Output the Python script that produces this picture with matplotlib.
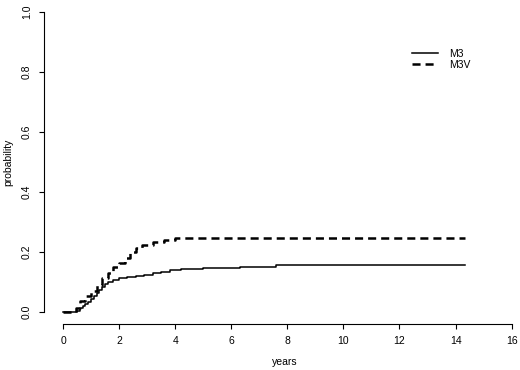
import matplotlib
matplotlib.use("Agg")
import matplotlib.pyplot as plt

plt.rcParams['font.family'] = ['Liberation Sans', 'DejaVu Sans']
plt.rcParams['lines.scale_dashes'] = False

# cumulative incidence, step functions
m3_t = [0, 0.5, 0.6, 0.7, 0.8, 0.9, 1.0, 1.1, 1.2, 1.3, 1.4, 1.5, 1.6, 1.8, 2.0, 2.3,
        2.6, 2.9, 3.2, 3.5, 3.8, 4.2, 5.0, 6.3, 7.6, 14.35]
m3_p = [0, 0.005, 0.012, 0.02, 0.028, 0.035, 0.045, 0.055, 0.063, 0.072, 0.082, 0.092,
        0.1, 0.107, 0.112, 0.116, 0.12, 0.125, 0.13, 0.135, 0.14, 0.145, 0.147, 0.151,
        0.157, 0.157]
m3v_t = [0, 0.45, 0.6, 0.8, 1.0, 1.2, 1.4, 1.6, 1.8, 2.0, 2.2, 2.4, 2.6, 2.8, 3.2, 3.6,
         4.0, 14.35]
m3v_p = [0, 0.012, 0.038, 0.055, 0.07, 0.09, 0.115, 0.13, 0.15, 0.165, 0.18, 0.2, 0.215,
         0.225, 0.233, 0.24, 0.246, 0.246]

xticks = [0, 2, 4, 6, 8, 10, 12, 14, 16]
yticks = [0.0, 0.2, 0.4, 0.6, 0.8, 1.0]

fig = plt.figure(figsize=(5.2, 3.7), dpi=100)
ax = fig.add_axes([49 / 520, 52 / 370, 471 / 520, 312 / 370])

ax.plot(m3_t, m3_p, drawstyle='steps-post', color='black', lw=1.1, label='M3')
ax.plot(m3v_t, m3v_p, drawstyle='steps-post', color='black', lw=1.8,
        dashes=(5.8, 3.6), label='M3V')

ax.set_xlim(-0.5, 16.3)
ax.set_ylim(-0.02, 1.02)

for s in ['top', 'right']:
    ax.spines[s].set_visible(False)
ax.spines['left'].set_position(('outward', 3.6))
ax.spines['bottom'].set_position(('outward', 4.3))
ax.spines['left'].set_bounds(0, 1)
ax.spines['bottom'].set_bounds(0, 16)

ax.set_xticks(xticks)
ax.set_xticklabels([str(t) for t in xticks])
ax.set_yticks(yticks)
ax.set_yticklabels(['%.1f' % t for t in yticks], rotation=90, va='center')
ax.tick_params(labelsize=7.5, length=3.6, width=0.8, pad=5)

ax.set_xlabel('years', fontsize=7.5, labelpad=8)
ax.set_ylabel('probability', fontsize=7.5, labelpad=6)

ax.legend(loc='upper left', bbox_to_anchor=(0.751, 0.893), frameon=False, fontsize=7.5,
          handlelength=2.5, handletextpad=1.1, labelspacing=0.12)

fig.savefig('out.png', dpi=100)
